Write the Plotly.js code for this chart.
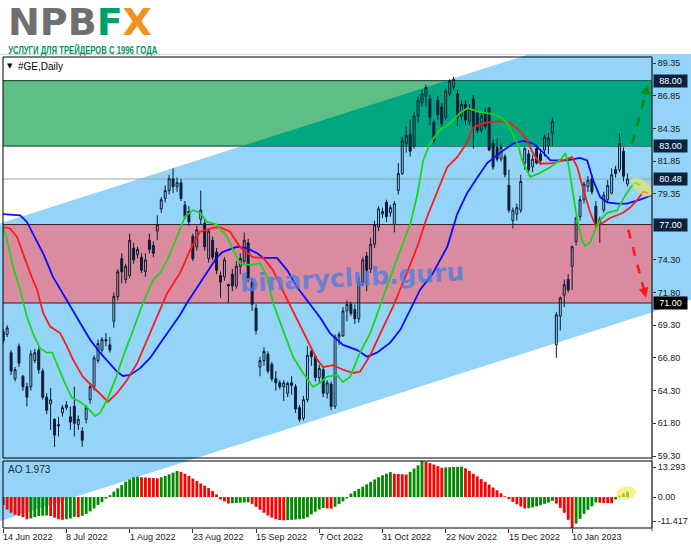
<!DOCTYPE html>
<html><head><meta charset="utf-8">
<script src="https://cdn.plot.ly/plotly-3.0.1.min.js"></script>
<style>html,body{margin:0;padding:0;background:#fff;}#chart{width:691px;height:549px;}</style>
</head><body><div id="chart"></div>
<script>
// ---------------- DATA ----------------
const tickIdx = [0,16,32,48,64,80,96,112,128,144];
const tickLabels = ['14 Jun 2022','8 Jul 2022','1 Aug 2022','23 Aug 2022','15 Sep 2022','7 Oct 2022','31 Oct 2022','22 Nov 2022','15 Dec 2022','10 Jan 2023'];
const priceTicks = [89.35,86.85,84.35,81.85,79.35,74.30,71.80,69.30,66.80,64.30,61.80,59.30];

const opens = [68.8,68.6,67.2,65.2,67.7,65.4,64.6,64.6,66.6,67.4,65.8,63.8,63.3,62.1,61.7,62.6,63.0,62.3,63.1,61.7,
61.2,62.1,63.6,64.6,66.6,67.4,68.2,67.8,69.6,71.5,74.4,72.8,73.1,75.2,74.7,74.5,73.4,75.8,75.4,76.5,
78.2,79.0,79.6,80.5,79.9,80.2,78.5,78.0,76.1,75.3,77.4,77.1,74.4,75.8,74.9,73.1,73.0,72.4,73.2,72.3,
73.8,74.2,75.6,72.6,70.6,66.1,66.6,67.1,66.3,65.2,64.9,64.6,64.1,64.9,64.6,63.0,62.2,63.6,67.3,66.9,
65.3,65.9,64.1,64.8,63.1,68.4,68.5,70.4,70.9,70.5,69.8,72.6,74.6,73.6,75.5,76.8,77.8,78.7,77.9,77.0,
79.6,80.9,83.2,83.9,83.0,85.3,86.3,86.8,86.6,84.8,86.5,86.0,85.2,87.0,87.5,87.0,85.3,86.2,84.9,86.6,
85.5,84.2,85.6,85.9,83.2,82.9,82.0,82.2,80.0,77.3,77.8,78.1,81.7,82.4,81.4,82.8,82.4,82.7,83.0,84.0,
67.8,70.0,71.6,72.8,73.8,75.7,77.6,78.9,79.9,80.5,78.4,77.1,78.1,78.9,79.4,81.2,81.2,82.6,80.1];
const highs = [69.0,69.3,67.4,66.1,67.9,65.5,64.9,67.4,67.5,67.6,66.0,64.1,64.5,62.2,62.3,63.2,63.5,63.1,64.6,62.4,
61.5,63.2,64.9,67.0,68.2,68.4,68.7,68.4,71.8,73.6,74.8,74.0,76.3,75.6,75.3,74.8,74.8,76.3,75.7,77.7,
79.1,80.0,80.8,81.3,80.6,80.5,78.8,78.4,76.3,76.9,79.6,77.4,76.7,76.1,75.2,73.4,74.5,72.5,73.6,74.2,
74.8,76.4,75.9,72.9,70.9,66.9,67.6,67.3,66.5,65.8,65.1,65.1,65.0,65.4,64.8,63.2,63.9,67.7,67.6,67.0,
66.3,66.1,65.1,65.0,68.6,68.8,70.7,71.2,71.1,70.9,73.0,74.5,74.9,76.0,77.3,78.4,78.3,78.9,78.5,78.8,
81.7,83.7,84.5,85.0,85.6,86.8,87.3,87.7,86.9,85.0,86.8,86.3,87.4,88.1,88.3,87.3,86.5,86.5,86.2,86.9,
85.8,85.6,85.9,86.0,83.5,83.6,83.2,82.4,81.2,78.3,78.6,80.8,82.9,82.7,82.3,83.1,82.8,83.9,84.0,85.2,
70.3,71.5,72.8,73.2,75.4,77.6,79.2,80.3,80.7,80.8,78.8,77.6,79.5,80.4,81.3,81.5,84.0,82.9,80.9];
const lows = [67.9,68.4,65.5,65.0,66.1,64.3,63.1,64.3,66.4,65.6,63.6,62.5,61.3,60.0,60.8,62.3,62.8,61.3,60.8,61.3,
60.0,61.8,63.3,64.3,66.4,67.2,67.7,67.2,69.1,71.2,72.5,72.5,72.9,74.0,74.4,73.3,73.0,74.8,74.5,75.8,
77.9,78.7,79.3,79.4,79.5,78.8,77.4,76.9,74.2,75.0,77.0,75.0,74.1,74.3,73.2,71.4,72.7,71.0,71.9,72.1,
73.2,73.9,72.6,70.4,68.6,65.4,66.2,65.6,65.0,64.3,64.4,63.5,63.8,64.0,62.6,61.9,62.0,63.4,66.2,65.0,
64.9,63.8,63.7,62.8,62.9,67.8,68.4,69.6,70.0,69.4,69.5,72.3,71.9,73.3,75.2,76.5,77.5,77.2,77.6,76.4,
79.3,80.8,82.5,82.2,82.8,84.8,86.0,86.0,84.6,83.2,85.0,84.5,85.0,86.8,87.3,84.5,85.0,84.6,84.6,82.8,
84.0,84.0,84.3,82.6,81.2,81.8,81.8,80.6,77.9,76.7,77.3,77.9,81.2,81.0,81.0,81.6,81.6,82.2,82.4,83.0,
66.8,68.9,70.7,71.8,72.0,75.4,77.3,78.6,79.5,79.3,76.8,75.6,77.9,78.7,79.3,80.6,81.0,80.3,79.9];
const closes = [68.1,69.1,65.8,65.9,66.4,64.6,63.8,67.1,67.2,65.9,63.8,62.8,63.6,60.9,61.6,63.0,63.2,61.9,61.8,62.1,
60.5,63.0,64.6,66.8,67.9,68.2,68.1,67.4,71.5,73.4,73.4,73.8,75.8,74.3,75.1,73.5,74.3,75.1,74.8,77.0,
78.9,79.6,80.5,79.9,80.2,79.0,77.6,77.2,74.4,76.6,78.1,75.3,76.5,74.5,73.5,72.6,74.3,72.3,72.3,73.8,
74.4,75.8,72.9,70.9,68.9,66.6,67.3,65.8,65.2,64.9,64.6,64.9,64.85,64.7,62.9,62.1,63.6,67.0,66.9,65.3,
66.0,64.1,64.9,63.1,68.4,68.6,70.4,70.9,70.2,69.8,72.6,74.3,73.5,75.5,77.0,78.2,78.0,77.6,78.3,78.6,
80.9,83.4,83.8,82.6,85.3,86.5,87.0,87.5,85.2,83.4,85.4,84.7,87.2,88.0,88.1,85.2,86.2,85.0,85.8,84.4,
84.2,85.3,84.5,82.7,81.4,82.0,82.9,80.8,78.1,78.1,78.3,80.3,82.8,81.2,82.0,81.7,81.9,83.7,83.6,84.9,
70.1,71.4,72.4,72.0,75.3,77.5,78.9,80.1,80.4,79.5,77.0,77.4,79.25,80.0,80.8,80.9,83.2,80.7,80.48];

// Alligator lines (bar index, price)
const jawX = [0,4.3,6,7.5,10.1,12.6,14.9,16.9,19.4,22,24.5,27,28.8,30.3,32.1,34.6,37.2,39.7,42.2,44.8,46.5,49.1,51.6,54.1,55.5,59.2,61.7,64.3,65.8,69.3,71.9,74.4,77.7,80.2,82.7,86,89.6,92.1,94.6,97.9,100.5,103,105.5,108.8,112.4,114.9,117.4,120,122.5,125.8,129.1,131.6,134.1,136.7,138.5,142.8,146,147.8,149.3,151.1,152.9,155.4,157.9,161.2,163.8,166];
const jawY = [77.8,77.7,77.2,76.35,74.8,73.0,71.8,70.85,69.55,68.2,67.2,66.4,65.75,65.42,65.5,66.0,66.8,67.9,68.95,70.1,71.0,72.15,73.35,74.5,74.9,75.3,75.2,74.8,74.45,74.45,73.5,72.2,70.85,69.9,68.7,67.8,67.4,66.9,67.2,67.95,68.95,70.5,72.0,73.3,75.3,77.8,79.4,80.6,81.7,82.5,83.2,83.4,83.2,82.5,81.9,81.9,82.1,81.9,80.4,79.1,78.7,78.6,78.6,78.9,79.2,79.3];
const teethX = [0,1.7,3.5,5,6.8,8.6,10.1,11.9,14.4,16.2,17.7,20.2,22.7,25.3,26.5,28.8,31.3,33.9,36.4,38.9,41.5,44.8,47.3,49.8,53.1,54.9,57.4,59.9,63.2,65.8,68.3,71.9,74.4,76.9,79.5,81,83.5,86,88.6,90.3,92.9,96.2,98.7,102.2,104.8,107.3,109.8,112.4,114.9,117.4,118.9,121.5,124,126.5,128.3,130.8,132.6,134.1,135.9,139.2,141.7,144,145.3,146.8,148.6,149.8,151.6,153.6,156.9,158.7,160.5,162,163.3];
const teethY = [76.8,76.7,76.05,74.8,73.3,72.0,70.25,69.2,68.7,67.65,66.65,65.35,64.6,63.75,63.45,64.1,65.1,66.4,68.15,69.95,71.75,73.3,75.05,76.45,76.75,76.8,76.45,75.3,74.5,74.45,73.5,71.25,69.7,68.15,66.65,66.1,66.25,65.9,65.65,65.75,67.0,69.15,70.75,73.3,75.3,77.6,79.4,81.4,82.15,83.25,84.4,84.75,84.85,84.9,84.75,84.15,83.45,82.45,81.65,81.7,81.9,82.15,81.4,79.7,77.9,77.0,77.1,77.5,77.9,78.3,78.9,79.5,79.4];
const lipsX = [0,1,2.5,4.3,6,7.5,9.3,11.1,12.4,13.9,15.6,17.4,19.4,21.5,23.3,24.5,26.3,28.3,30.3,32.9,35.4,37.9,39.7,41.5,44,46,48,49.8,51.6,54.1,56.7,58.2,59.9,62.5,65,66.8,68.3,70.8,73.4,75.9,78.4,80.2,81.9,84.5,86,87.8,90.3,92.9,95.4,97.9,100.5,103,104.8,106.3,108.1,110.6,113.1,115.7,117.4,118.9,121.5,124,125.8,127.6,130.1,131.6,133.4,135.9,138.5,141,142.3,143,144.3,145.3,146.5,147.3,148.6,149.8,151.1,152.9,155.4,157,158.7,160,161.2];
const lipsY = [76.8,75.8,73.75,72.0,69.95,68.7,67.55,67.2,67.2,66.1,64.9,63.75,63.45,62.95,62.35,62.6,63.6,65.1,66.85,68.95,71.0,72.75,73.3,74.3,76.05,77.6,78.1,77.9,77.2,77.0,76.05,75.05,74.05,73.9,74.05,73.0,71.0,68.95,66.85,65.65,64.6,64.9,65.35,65.5,64.95,65.35,67.2,68.7,70.85,72.9,75.05,77.0,79.25,81.9,83.25,84.25,84.75,85.55,85.9,85.75,85.55,85.45,85.2,84.75,83.25,81.7,80.65,80.95,81.4,81.95,82.45,81.7,79.1,77.35,75.8,75.35,75.65,76.6,77.35,77.9,78.1,79.0,79.8,80.2,80.0];

// Awesome Oscillator values
const aoVals = [-2.9,-4.6,-5.8,-6.5,-6.9,-7.4,-8.2,-7.9,-7.4,-7.0,-6.9,-6.8,-7.0,-7.6,-8.2,-8.4,-8.2,-7.9,-7.3,-7.4,
-6.9,-6.2,-5.3,-4.2,-2.9,-1.9,-0.6,0.7,2.0,3.2,4.4,5.7,6.5,7.3,7.5,7.3,7.2,7.1,7.0,6.9,
7.3,7.8,8.4,9.0,9.6,9.3,8.6,7.8,6.8,5.9,5.0,4.2,3.3,2.2,1.0,-0.9,-1.6,-2.4,-2.3,-2.2,
-2.1,-2.0,-1.95,-2.5,-3.6,-4.7,-5.8,-6.8,-7.6,-8.2,-8.5,-8.6,-8.5,-8.4,-8.3,-8.2,-8.0,-7.5,-6.4,-5.4,
-4.6,-4.0,-4.2,-4.3,-3.6,-2.6,-1.6,-0.5,1.3,2.2,3.0,3.8,4.7,5.6,6.5,7.3,8.0,8.6,9.2,8.6,
8.5,8.4,8.3,9.3,10.5,11.7,13.29,13.0,12.5,12.0,11.4,10.8,10.9,11.0,11.1,11.15,11.2,10.6,9.6,8.6,
7.6,6.6,5.6,4.6,3.5,2.5,1.4,0.3,-0.8,-1.8,-2.7,-3.5,-4.2,-4.1,-3.8,-3.4,-3.0,-2.5,-2.0,-1.4,
-2.4,-4.0,-5.8,-8.4,-11.4,-9.8,-8.0,-6.2,-4.7,-3.4,-2.0,-2.1,-2.2,-2.25,-2.3,-0.9,0.5,1.4,1.973];
const aoLabelVals = [13.293, 0.00, -11.417];

// Drawn objects
const zoneGreen = [83.00, 88.00];
const zoneRed = [71.00, 77.00];
const levelBoxes = [88.00, 83.00, 80.48, 77.00, 71.00];
const lastPrice = 80.48;
const channelBars = [0, 160];
const channelUpper = [77.16, 92.62];
const channelWidth = 22.74;
const greenArrow = [[159.2, 83.2], [163.2, 87.7]];
const redArrow = [[158.2, 76.6], [162.7, 71.4]];
const subtitleText = 'УСЛУГИ ДЛЯ ТРЕЙДЕРОВ С 1996 ГОДА';

// ---------------- GEOMETRY ----------------
const W=691, H=549, ML=3, MR=39, MT=57, MB=21;
const PW=W-ML-MR, PH=H-MT-MB;
const mainBottomPx=458, aoTopPx=461;
const d0=(MT+PH-mainBottomPx)/PH, d1=(MT+PH-aoTopPx)/PH;
const xr=[-0.05, -0.05+PW/3.951];
const yr=[59.15, 89.81];
const aor=[-11.417, 13.293];
const bx=b=>ML+(b-xr[0])/(xr[1]-xr[0])*PW;
const py=p=>MT+(yr[1]-p)/(yr[1]-yr[0])*(mainBottomPx-MT);
const aoVal=pyv=>aor[1]-(pyv-aoTopPx)/(MT+PH-aoTopPx)*(aor[1]-aor[0]);
const pX=px=>(px-ML)/PW, pY=v=>(MT+PH-v)/PH;
const pxToBar=px=>xr[0]+(px-ML)/PW*(xr[1]-xr[0]);
const upperAt=b=>channelUpper[0]+(channelUpper[1]-channelUpper[0])*(b-channelBars[0])/(channelBars[1]-channelBars[0]);

const idx = opens.map((_,i)=>i);

// channel polygon (picture space, clipped at top of chart window)
const bL=pxToBar(0), bR=pxToBar(W);
const yU0=py(upperAt(bL)), yU1=py(upperAt(bR)), yL0=py(upperAt(bL)-channelWidth), yL1=py(upperAt(bR)-channelWidth);
const topClip=54;
let cpts;
if (yU1<topClip){const xi=(topClip-yU0)/(yU1-yU0)*W; cpts=[[0,yU0],[xi,topClip],[W,topClip],[W,yL1],[0,yL0]];}
else cpts=[[0,yU0],[W,yU1],[W,yL1],[0,yL0]];
const pathOf=pts=>'M'+pts.map(p=>pX(p[0]).toFixed(5)+','+pY(p[1]).toFixed(5)).join('L')+'Z';

const slope=(channelUpper[1]-channelUpper[0])/(channelBars[1]-channelBars[0]);
const bAt=p=>channelBars[0]+(p-channelUpper[0])/slope;

function ellipse(cx,cy,a,b,ang){const th=ang*Math.PI/180;const pts=[];for(let k=0;k<40;k++){const t=2*Math.PI*k/40;pts.push([cx+a*Math.cos(t)*Math.cos(th)-b*Math.sin(t)*Math.sin(th), cy+a*Math.cos(t)*Math.sin(th)+b*Math.sin(t)*Math.cos(th)]);}return pathOf(pts);}
function arrow(a,color){
  const x0=bx(a[0][0]),y0=py(a[0][1]),x1=bx(a[1][0]),y1=py(a[1][1]);
  const L=Math.hypot(x1-x0,y1-y0),ux=(x1-x0)/L,uy=(y1-y0)/L,hl=10,hw=5;
  const qx=x1-ux*hl,qy=y1-uy*hl;
  return [
    {type:'line',xref:'paper',yref:'paper',x0:pX(x0),y0:pY(y0),x1:pX(qx),y1:pY(qy),line:{color:color,width:2.6,dash:'dash'},layer:'above'},
    {type:'path',xref:'paper',yref:'paper',path:pathOf([[x1,y1],[qx-uy*hw,qy+ux*hw],[qx+uy*hw,qy-ux*hw]]),fillcolor:color,line:{width:0},layer:'above'}
  ];
}

const shapes=[
  {type:'line',xref:'paper',yref:'paper',x0:pX(0),x1:pX(W),y0:pY(54.5),y1:pY(54.5),line:{color:'#d6d6d6',width:1},layer:'below'},
  {type:'path',xref:'paper',yref:'paper',path:pathOf(cpts),fillcolor:'#93d4f8',line:{width:0},layer:'below'},
  {type:'rect',xref:'paper',yref:'y',x0:0,x1:1,y0:zoneGreen[0],y1:zoneGreen[1],fillcolor:'#5dbe86',line:{width:0},layer:'below'},
  {type:'path',xref:'x',yref:'y',path:`M${bAt(zoneGreen[0])},${zoneGreen[0]}L${bAt(zoneGreen[1])},${zoneGreen[1]}L${xr[1]+5},${zoneGreen[1]}L${xr[1]+5},${zoneGreen[0]}Z`,fillcolor:'#00a882',line:{width:0},layer:'below'},
  {type:'rect',xref:'paper',yref:'y',x0:0,x1:1,y0:zoneRed[0],y1:zoneRed[1],fillcolor:'#da8b9f',line:{width:0},layer:'below'},
  {type:'line',xref:'paper',yref:'y',x0:0,x1:1,y0:zoneGreen[1],y1:zoneGreen[1],line:{color:'#103030',width:1},layer:'below'},
  {type:'line',xref:'paper',yref:'y',x0:0,x1:1,y0:zoneGreen[0],y1:zoneGreen[0],line:{color:'#103030',width:1},layer:'below'},
  {type:'line',xref:'paper',yref:'y',x0:0,x1:1,y0:zoneRed[1],y1:zoneRed[1],line:{color:'#3a1a28',width:1},layer:'below'},
  {type:'line',xref:'paper',yref:'y',x0:0,x1:1,y0:zoneRed[0],y1:zoneRed[0],line:{color:'#3a1a28',width:1},layer:'below'},
  {type:'line',xref:'paper',yref:'y',x0:0,x1:1,y0:lastPrice,y1:lastPrice,line:{color:'#9aa4ac',width:1},layer:'below'},
  {type:'path',xref:'paper',yref:'paper',path:ellipse(642,187,13,6.5,38),fillcolor:'rgba(245,235,80,0.6)',line:{width:0},layer:'above'},
  {type:'path',xref:'paper',yref:'paper',path:ellipse(626,493,10,6.5,-10),fillcolor:'rgba(245,235,80,0.65)',line:{width:0},layer:'above'},
  ...arrow(greenArrow,'#138a13'),
  ...arrow(redArrow,'#ff1a1a'),
  {type:'rect',xref:'paper',yref:'paper',x0:0,x1:1,y0:d0,y1:1,line:{color:'#000',width:1},fillcolor:'rgba(0,0,0,0)',layer:'above'},
  {type:'rect',xref:'paper',yref:'paper',x0:0,x1:1,y0:0,y1:d1,line:{color:'#000',width:1},fillcolor:'rgba(0,0,0,0)',layer:'above'},
  {type:'line',xref:'paper',yref:'paper',x0:1,x1:1,y0:pY(531),y1:1,line:{color:'#555',width:1},layer:'above'}
];

const fnt='Liberation Sans, Arial, sans-serif';
const subW=149;
const annotations=[
  {xref:'paper',yref:'paper',x:pX(6),y:pY(21.8),xanchor:'left',yanchor:'middle',showarrow:false,
   text:'NPB<span style="color:#00a06e">F</span><span style="color:#f39220">X</span>',font:{family:'DejaVu Sans',size:38,weight:700,color:'#6e6f71'}},
  {xref:'paper',yref:'paper',x:pX(8+subW/2),y:pY(49.6),xanchor:'center',yanchor:'middle',showarrow:false,
   text:subtitleText,font:{family:'Liberation Sans',size:10,weight:700,color:'#00965f'}},
  {xref:'paper',yref:'paper',x:pX(5),y:pY(66),xanchor:'left',yanchor:'middle',showarrow:false,text:'▼',font:{family:'DejaVu Sans',size:7,color:'#000'}},
  {xref:'paper',yref:'paper',x:pX(16),y:pY(66),xanchor:'left',yanchor:'middle',showarrow:false,text:'#GE,Daily',font:{family:fnt,size:10,color:'#000'}},
  {xref:'paper',yref:'paper',x:pX(6),y:pY(469),xanchor:'left',yanchor:'middle',showarrow:false,text:'AO '+aoVals[aoVals.length-1].toFixed(3),font:{family:fnt,size:10,color:'#1a2a3a'}},
  {xref:'paper',yref:'paper',x:pX(352),y:pY(277),xanchor:'center',yanchor:'middle',showarrow:false,text:'<b>binaryclub.guru</b>',textangle:-3,font:{family:'DejaVu Sans',size:25,color:'rgba(75,125,225,0.78)'}}
];
tickIdx.forEach((t,k)=>annotations.push({xref:'x',yref:'paper',x:t,y:pY(537),xanchor:'left',yanchor:'middle',xshift:-2,showarrow:false,text:tickLabels[k],font:{family:fnt,size:9,color:'#1a1a1a'}}));
levelBoxes.forEach(v=>annotations.push({xref:'paper',yref:'y',x:1,y:v,xanchor:'left',yanchor:'middle',xshift:1,showarrow:false,text:v.toFixed(2),
  bgcolor:(v===zoneRed[0]?'#000000':'#0c2340'),borderpad:1,width:31,height:10,font:{family:fnt,size:9,color:'#fff'}}));

const aoColors=aoVals.map((v,i)=>i>0&&v>aoVals[i-1]?'#008a00':'#ff0000');

const data=[
  {type:'candlestick',x:idx,open:opens,high:highs,low:lows,close:closes,xaxis:'x',yaxis:'y',whiskerwidth:0,hoverinfo:'skip',
   increasing:{line:{color:'#0c1c36',width:1},fillcolor:'rgba(0,0,0,0)'},
   decreasing:{line:{color:'#0c1c36',width:1},fillcolor:'#0c1c36'}},
  {type:'scatter',mode:'lines',x:jawX,y:jawY,line:{color:'#0a0aff',width:1.8},xaxis:'x',yaxis:'y',hoverinfo:'skip'},
  {type:'scatter',mode:'lines',x:teethX,y:teethY,line:{color:'#ff1a1a',width:1.8},xaxis:'x',yaxis:'y',hoverinfo:'skip'},
  {type:'scatter',mode:'lines',x:lipsX,y:lipsY,line:{color:'#1ed21e',width:1.8},xaxis:'x',yaxis:'y',hoverinfo:'skip'},
  {type:'bar',x:idx,y:aoVals,marker:{color:aoColors,line:{width:0}},width:0.72,xaxis:'x',yaxis:'y2',hoverinfo:'skip'}
];

const layout={
  width:W,height:H,margin:{l:ML,r:MR,t:MT,b:MB},paper_bgcolor:'#ffffff',plot_bgcolor:'rgba(0,0,0,0)',showlegend:false,
  xaxis:{domain:[0,1],range:xr,anchor:'y2',showgrid:false,zeroline:false,showline:false,rangeslider:{visible:false},
    tickmode:'array',tickvals:tickIdx,showticklabels:false,ticks:'outside',ticklen:4,tickcolor:'#333',tickwidth:1},
  yaxis:{domain:[d0,1],range:yr,side:'right',anchor:'x',showgrid:false,zeroline:false,showline:false,
    tickmode:'array',tickvals:priceTicks,ticktext:priceTicks.map(v=>v.toFixed(2)),ticks:'outside',ticklen:3,tickcolor:'#333',
    tickfont:{family:fnt,size:9,color:'#1a1a1a'}},
  yaxis2:{domain:[0,d1],range:aor,side:'right',anchor:'x',showgrid:false,zeroline:false,showline:false,
    tickmode:'array',tickvals:[aoVal(467),0,aoVal(521)],ticktext:[aoLabelVals[0].toFixed(3),aoLabelVals[1].toFixed(2),aoLabelVals[2].toFixed(3)],
    ticks:'outside',ticklen:3,tickcolor:'#333',tickfont:{family:fnt,size:9,color:'#1a1a1a'}},
  bargap:0.2,shapes:shapes,annotations:annotations
};
Plotly.newPlot('chart',data,layout,{staticPlot:true,displayModeBar:false}).then(function(){
  document.querySelectorAll('.annotation-text').forEach(function(t){
    if(t.textContent===subtitleText){t.setAttribute('textLength',subW);t.setAttribute('lengthAdjust','spacingAndGlyphs');}
  });
});
</script></body></html>
